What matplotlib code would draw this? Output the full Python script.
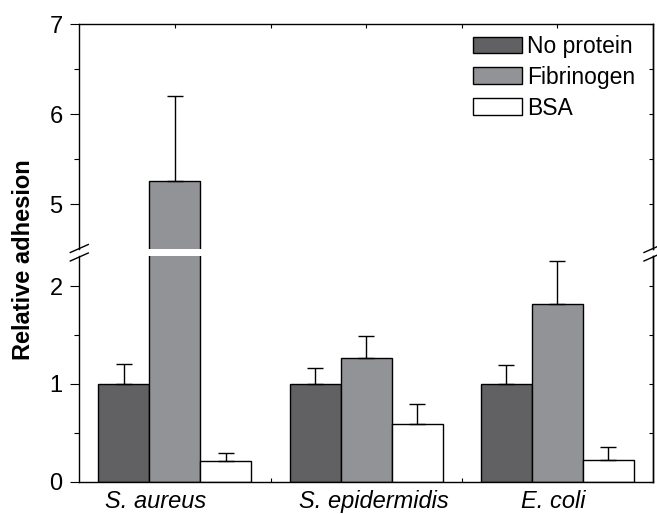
import matplotlib
matplotlib.use("Agg")
import matplotlib.pyplot as plt
import numpy as np
from matplotlib.lines import Line2D

plt.rcParams['font.family'] = ['Liberation Sans', 'DejaVu Sans']

categories = ["S. aureus", "S. epidermidis", "E. coli"]
label_pos = [-0.10, 1.04, 1.98]
series = ["No protein", "Fibrinogen", "BSA"]
no_protein = [1.0, 1.0, 1.0]
no_protein_err = [0.20, 0.16, 0.19]
fibrinogen = [5.26, 1.27, 1.82]
fibrinogen_err = [0.94, 0.22, 0.44]
bsa = [0.21, 0.59, 0.22]
bsa_err = [0.08, 0.21, 0.14]

values = [no_protein, fibrinogen, bsa]
errors = [no_protein_err, fibrinogen_err, bsa_err]
colors = ["#616163", "#929397", "#ffffff"]

W, H = 657, 514
fig = plt.figure(figsize=(W/100, H/100), dpi=100)

L, R = 79.3, 653.0
top_t, top_b = 24.3, 249.3
bot_t, bot_b = 256.0, 481.7
ax_top = fig.add_axes([L/W, 1-top_b/H, (R-L)/W, (top_b-top_t)/H])
ax_bot = fig.add_axes([L/W, 1-bot_b/H, (R-L)/W, (bot_b-bot_t)/H])

x = np.arange(len(categories))
w = 0.8/3
for ax in (ax_top, ax_bot):
    for i, (vals, errs, c, name) in enumerate(zip(values, errors, colors, series)):
        ax.bar(x + (i-1)*w, vals, w, color=c, edgecolor="black", linewidth=1.0,
               label=name, zorder=2)
        ax.errorbar(x + (i-1)*w, vals, yerr=[np.zeros(len(errs)), errs], fmt="none",
                    ecolor="black", elinewidth=1.0, capsize=6, capthick=1.0, zorder=3)
    ax.set_xlim(-0.5, 2.5)
    ax.set_xticks([0, 0.5, 1, 1.5, 2])
    ax.tick_params(axis="x", direction="in", length=3, width=0.8, top=True, bottom=True,
                   labelbottom=False)
    ax.tick_params(axis="y", which="major", direction="out", length=6.5, width=0.8,
                   labelsize=17, pad=5.5)
    ax.tick_params(axis="y", which="minor", direction="out", length=3.5, width=0.8)
    for s in ax.spines.values():
        s.set_linewidth(1.0)

ax_top.set_ylim(4.5, 7)
ax_top.set_yticks([5, 6, 7])
ax_top.set_yticks([5.5, 6.5], minor=True)
ax_top.spines["bottom"].set_visible(False)
ax_top.tick_params(axis="x", bottom=False)

ax_bot.set_ylim(0, 2.31)
ax_bot.set_yticks([0, 1, 2])
ax_bot.set_yticks([0.5, 1.5], minor=True)
ax_bot.spines["top"].set_visible(False)
ax_bot.tick_params(axis="x", top=False)

for xp, name in zip(label_pos, categories):
    ax_bot.annotate(name, xy=(xp, 0), xycoords=("data", "axes fraction"),
                    xytext=(0, -6), textcoords="offset points", ha="center", va="top",
                    fontsize=17, fontstyle="italic")

# right-side inward ticks
for ax in (ax_top, ax_bot):
    sec = ax.secondary_yaxis("right")
    sec.set_yticks(ax.get_yticks())
    sec.set_yticks(ax.get_yticks(minor=True), minor=True)
    sec.tick_params(which="both", direction="in", length=3, width=0.8, labelright=False)
    sec.spines["right"].set_linewidth(1.0)

# break marks
def brk(xc):
    for yc in (248.5, 257.0):
        fig.add_artist(Line2D([(xc-9)/W, (xc+9)/W], [1-(yc+4)/H, 1-(yc-4)/H],
                              color="black", linewidth=1.0, transform=fig.transFigure))
brk(L)
brk(R)

ax_top.legend(loc="upper left", bbox_to_anchor=((473-L)/(R-L), (top_b-35)/(top_b-top_t)),
              frameon=False, fontsize=16.5, handlelength=2.12, handleheight=0.76,
              handletextpad=0.25, labelspacing=0.34, borderpad=0, borderaxespad=0)

fig.text(24/W, 1-260/H, "Relative adhesion", rotation=90, ha="center", va="center",
         fontsize=17, fontweight="bold")

fig.savefig("out.png", dpi=100)
